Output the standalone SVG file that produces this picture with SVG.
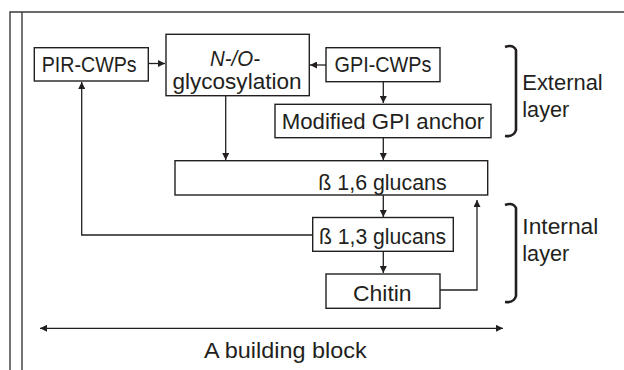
<svg xmlns="http://www.w3.org/2000/svg" width="624" height="370" viewBox="0 0 624 370">
<defs>
<style>
.box{fill:#fff;stroke:#231f20;stroke-width:1.4}
.t{font-family:"Liberation Sans",Arial,sans-serif;font-size:22.3px;fill:#231f20;text-anchor:middle}
.l{font-family:"Liberation Sans",Arial,sans-serif;font-size:22.3px;fill:#231f20}
.c{fill:none;stroke:#231f20;stroke-width:1.3}
.br{fill:none;stroke:#231f20;stroke-width:2.6}
.fr{fill:none;stroke:#3a3a3a;stroke-width:1.4}
</style>
<marker id="ah" viewBox="0 0 10 10" refX="10" refY="5" markerWidth="8" markerHeight="7" markerUnits="userSpaceOnUse" orient="auto-start-reverse">
<path d="M0,0 L10,5 L0,10 Z" fill="#231f20"/>
</marker>
</defs>
<rect width="624" height="370" fill="#fff"/>
<g id="frame">
<path class="fr" d="M10,370 V12 H624"/>
<path class="fr" d="M22,370 V12"/>
</g>
<g id="connectors">
<path class="c" d="M148,63.5 H165" marker-end="url(#ah)"/>
<path class="c" d="M326,65 H310" marker-end="url(#ah)"/>
<path class="c" d="M383.3,82 V103" marker-end="url(#ah)"/>
<path class="c" d="M225.7,96 V160" marker-end="url(#ah)"/>
<path class="c" d="M383.3,138 V160" marker-end="url(#ah)"/>
<path class="c" d="M383.3,195 V217" marker-end="url(#ah)"/>
<path class="c" d="M313,235 H81.7 V82" marker-end="url(#ah)"/>
<path class="c" d="M383.3,252 V273" marker-end="url(#ah)"/>
<path class="c" d="M440,290 H477 V200" marker-end="url(#ah)"/>
<path class="c" d="M40,328.3 H503" marker-start="url(#ah)" marker-end="url(#ah)"/>
</g>
<g id="pir">
<rect class="box" x="34.3" y="47.7" width="114" height="33.3"/>
<text class="t" x="89.2" y="72" textLength="95" lengthAdjust="spacingAndGlyphs">PIR-CWPs</text>
</g>
<g id="glyco">
<rect class="box" x="166" y="34.3" width="143.3" height="61.4"/>
<text class="t" x="235" y="65.5" font-style="italic" textLength="50" lengthAdjust="spacingAndGlyphs">N-/O-</text>
<text class="t" x="237" y="88.5" textLength="129" lengthAdjust="spacingAndGlyphs">glycosylation</text>
</g>
<g id="gpi">
<rect class="box" x="326" y="47.7" width="114" height="34"/>
<text class="t" x="383" y="72" textLength="97" lengthAdjust="spacingAndGlyphs">GPI-CWPs</text>
</g>
<g id="anchor">
<rect class="box" x="275" y="104.3" width="216" height="33.4"/>
<text class="t" x="383" y="128.5" textLength="202.6" lengthAdjust="spacingAndGlyphs">Modified GPI anchor</text>
</g>
<g id="b16">
<rect class="box" x="175" y="160.7" width="312.7" height="34.3"/>
<text class="t" x="382.5" y="190" textLength="128.4" lengthAdjust="spacingAndGlyphs">ß 1,6 glucans</text>
</g>
<g id="b13">
<rect class="box" x="312.7" y="217.5" width="140.6" height="33.8"/>
<text class="t" x="382.5" y="244" textLength="127" lengthAdjust="spacingAndGlyphs">ß 1,3 glucans</text>
</g>
<g id="chitin">
<rect class="box" x="326" y="274" width="114" height="34.3"/>
<text class="t" x="382.3" y="300.5" textLength="58.7" lengthAdjust="spacingAndGlyphs">Chitin</text>
</g>
<g id="external">
<path class="br" d="M505,47 Q513,44 516,50 V130 Q514,137 505,136"/>
<text class="l" x="522.3" y="90" textLength="80.4" lengthAdjust="spacingAndGlyphs">External</text>
<text class="l" x="522.3" y="117" textLength="47" lengthAdjust="spacingAndGlyphs">layer</text>
</g>
<g id="internal">
<path class="br" d="M505,205 Q513,202 516,208 V296 Q514,303 505,302"/>
<text class="l" x="522.3" y="233.5" textLength="76" lengthAdjust="spacingAndGlyphs">Internal</text>
<text class="l" x="522.3" y="261" textLength="47" lengthAdjust="spacingAndGlyphs">layer</text>
</g>
<text class="t" x="285.3" y="357.5" textLength="162.7" lengthAdjust="spacingAndGlyphs">A building block</text>
</svg>
